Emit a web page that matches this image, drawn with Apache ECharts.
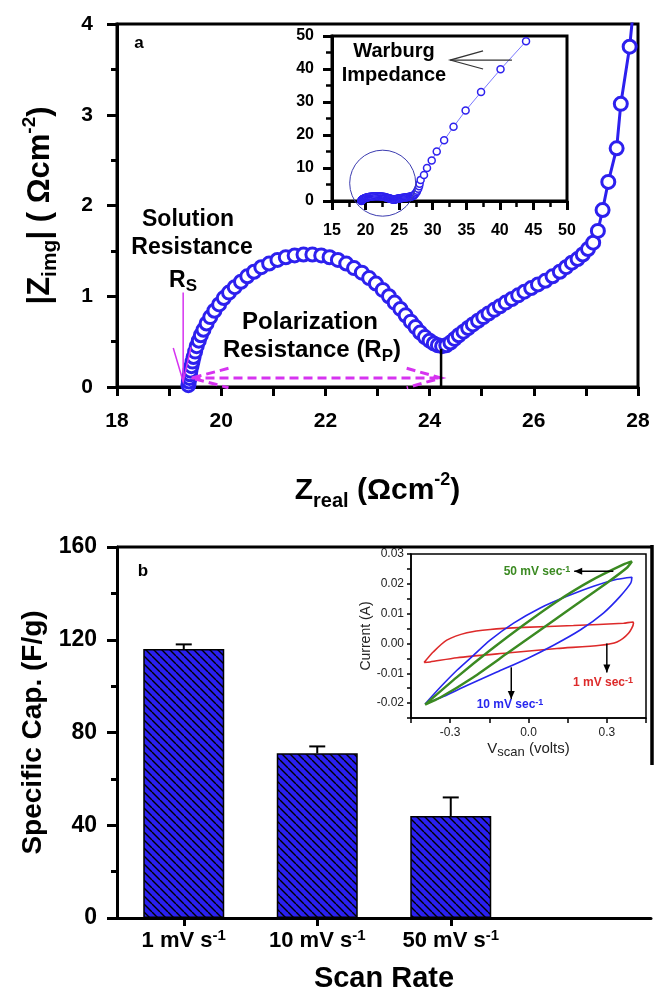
<!DOCTYPE html>
<html>
<head>
<meta charset="utf-8">
<script src="https://cdn.jsdelivr.net/npm/echarts/dist/echarts.min.js"></script>
<style>
  html, body { margin: 0; padding: 0; background: #fff; }
  #chart { width: 655px; height: 994px; }
</style>
</head>
<body>
<div id="chart"></div>
<script>
// panel a: Nyquist plot (Z_real, |Z_img|), same points in main plot and inset
const zReal = [19.37, 19.38, 19.39, 19.40, 19.41, 19.43, 19.45, 19.47, 19.50, 19.53,
  19.57, 19.61, 19.66, 19.72, 19.79, 19.87, 19.96, 20.05, 20.15, 20.26,
  20.38, 20.50, 20.63, 20.77, 20.92, 21.08, 21.24, 21.41, 21.58, 21.75,
  21.92, 22.08, 22.24, 22.40, 22.55, 22.70, 22.84, 22.97, 23.10, 23.22,
  23.33, 23.44, 23.54, 23.64, 23.73, 23.82, 23.91, 24.00, 24.08, 24.16,
  24.24, 24.32, 24.40, 24.48, 24.56, 24.65, 24.74, 24.83, 24.93, 25.03,
  25.13, 25.24, 25.35, 25.46, 25.58, 25.70, 25.82, 25.95, 26.08, 26.22,
  26.36, 26.50, 26.62, 26.73, 26.84, 26.94, 27.04, 27.14, 27.23, 27.32,
  27.43, 27.59, 27.67, 27.84, 27.97, 28.05, 28.2, 28.7, 29.15, 29.85,
  30.6, 31.7, 33.1, 34.9, 37.2, 40.1, 43.9]
const zImg = [0.02, 0.06, 0.10, 0.14, 0.18, 0.23, 0.28, 0.33, 0.39, 0.45,
  0.51, 0.57, 0.63, 0.70, 0.77, 0.84, 0.91, 0.98, 1.04, 1.10,
  1.16, 1.22, 1.27, 1.32, 1.36, 1.40, 1.43, 1.45, 1.46, 1.46,
  1.45, 1.43, 1.40, 1.36, 1.31, 1.26, 1.20, 1.14, 1.07, 1.00,
  0.93, 0.86, 0.79, 0.72, 0.66, 0.60, 0.55, 0.51, 0.48, 0.46,
  0.45, 0.46, 0.49, 0.53, 0.57, 0.61, 0.65, 0.69, 0.73, 0.77,
  0.81, 0.85, 0.89, 0.93, 0.97, 1.01, 1.05, 1.09, 1.13, 1.17,
  1.22, 1.27, 1.32, 1.37, 1.41, 1.46, 1.52, 1.59, 1.72, 1.95,
  2.26, 2.63, 3.12, 3.75, 4.5, 5.2, 6.4, 7.9, 10.0, 12.3,
  15.0, 18.4, 22.5, 27.4, 33.0, 39.9, 48.4]

// panel b: specific capacitance vs scan rate
const scanRates = ['1 mV s', '10 mV s', '50 mV s']
const specCap = [116, 71, 44]
const capErr = [2, 3, 8]

// panel b inset: CV loops (V, A)
const cv1V = [-0.400, -0.364, -0.313, -0.236, -0.147, -0.019, 0.172, 0.364, 0.400, 0.402, 0.383, 0.339, 0.275, 0.109, -0.083, -0.274, -0.377, -0.400]
const cv1I = [-0.0064, -0.0028, 0.0011, 0.0036, 0.0047, 0.0054, 0.0060, 0.0068, 0.0072, 0.0068, 0.0034, 0.0005, -0.0006, -0.0017, -0.0032, -0.0048, -0.0062, -0.0064]
const cv10V = [-0.396, -0.338, -0.274, -0.211, -0.147, -0.057, 0.045, 0.147, 0.249, 0.339, 0.396, 0.392, 0.351, 0.287, 0.198, 0.096, -0.006, -0.121, -0.236, -0.326, -0.396]
const cv10I = [-0.0203, -0.0147, -0.0090, -0.0040, 0.0011, 0.0068, 0.0119, 0.0158, 0.0192, 0.0215, 0.0222, 0.0203, 0.0158, 0.0102, 0.0045, -0.0006, -0.0051, -0.0096, -0.0141, -0.0178, -0.0203]
const cv50V = [-0.396, -0.274, -0.147, -0.019, 0.109, 0.236, 0.364, 0.396, 0.377, 0.300, 0.172, 0.045, -0.083, -0.211, -0.338, -0.396]
const cv50I = [-0.0205, -0.0113, -0.0023, 0.0062, 0.0141, 0.0209, 0.0265, 0.0275, 0.0254, 0.0203, 0.0124, 0.0045, -0.0034, -0.0113, -0.0181, -0.0205]

const BLUE = '#2d20ee'
const MAG = '#d633f0'
const FONT = 'Liberation Sans, Arial, sans-serif'

const zip = (xs, ys) => xs.map((x, i) => [x, ys[i]])

// blue fill with black "\" hatching for the bars
const tile = document.createElement('canvas')
tile.width = 8
tile.height = 8
const tg = tile.getContext('2d')
tg.fillStyle = '#2a20f0'
tg.fillRect(0, 0, 8, 8)
tg.strokeStyle = '#000'
tg.lineWidth = 1.4
for (const o of [-8, 0, 8]) {
  tg.beginPath()
  tg.moveTo(o, 0)
  tg.lineTo(o + 8, 8)
  tg.stroke()
}

const boldLabel = (size, margin) => ({
  show: true, color: '#000', fontSize: size, fontWeight: 'bold', fontFamily: FONT, margin: margin
})
const thickLine = w => ({ show: true, onZero: false, lineStyle: { color: '#000', width: w } })
const tick = (len, w) => ({ show: true, inside: false, length: len, lineStyle: { color: '#000', width: w } })
const minor = (len, w) => ({ show: true, splitNumber: 2, length: len, lineStyle: { color: '#000', width: w } })

const richBig = size => ({
  a: { fontSize: size, fontWeight: 'bold', fontFamily: FONT, color: '#000', lineHeight: size + 10 },
  s: { fontSize: Math.round(size * 0.68), fontWeight: 'bold', fontFamily: FONT, color: '#000', lineHeight: 16, verticalAlign: 'bottom' },
  p: { fontSize: Math.round(size * 0.6), fontWeight: 'bold', fontFamily: FONT, color: '#000', lineHeight: 14, verticalAlign: 'top' }
})

const chart = echarts.init(document.getElementById('chart'))
chart.setOption({
  animation: false,
  backgroundColor: '#fff',
  grid: [
    { left: 117, top: 24, width: 521, height: 363, show: true, borderColor: '#000', borderWidth: 3 },
    { left: 332, top: 36, width: 235, height: 165, show: true, borderColor: '#000', borderWidth: 3, backgroundColor: '#fff' },
    { left: 117, top: 547, width: 534, height: 371 },
    { left: 411, top: 554, width: 235, height: 164, show: true, borderColor: '#000', borderWidth: 1.5, backgroundColor: '#fff' }
  ],
  xAxis: [{
    gridIndex: 0, type: 'value', min: 18, max: 28, interval: 1,
    axisLine: thickLine(3), axisTick: tick(9, 3), splitLine: { show: false },
    axisLabel: Object.assign(boldLabel(21, 24), { formatter: v => (v % 2 === 0 ? String(v) : '') }),
    name: '{a|Z}{s|real}{a| (Ωcm}{p|-2}{a|)}',
    nameLocation: 'middle', nameGap: 84, nameTextStyle: { rich: richBig(30) }
  }, {
    gridIndex: 1, type: 'value', min: 15, max: 50, interval: 5,
    axisLine: thickLine(3), axisTick: tick(9, 3), splitLine: { show: false },
    minorTick: minor(6, 2.5),
    axisLabel: boldLabel(16, 22)
  }, {
    gridIndex: 2, type: 'category', data: scanRates.concat(['']),
    axisLine: thickLine(3),
    axisTick: { show: true, alignWithLabel: true, length: 8, interval: i => i < 3, lineStyle: { color: '#000', width: 3 } },
    axisLabel: {
      show: true, margin: 10, interval: 0,
      formatter: v => (v ? '{a|' + v + '}{p|-1}' : ''),
      rich: {
        a: { fontSize: 22, fontWeight: 'bold', fontFamily: FONT, color: '#000', lineHeight: 26 },
        p: { fontSize: 15, fontWeight: 'bold', fontFamily: FONT, color: '#000', lineHeight: 12, verticalAlign: 'top' }
      }
    },
    name: 'Scan Rate', nameLocation: 'middle', nameGap: 46,
    nameTextStyle: { fontSize: 29, fontWeight: 'bold', fontFamily: FONT, color: '#000' }
  }, {
    gridIndex: 3, type: 'value', min: -0.45, max: 0.45, interval: 0.15,
    axisLine: thickLine(1.5), axisTick: tick(5, 1.5), splitLine: { show: false },
    axisLabel: {
      show: true, color: '#222', fontSize: 12, fontFamily: FONT, margin: 9,
      formatter: v => (Math.abs(Math.abs(v) - 0.3) < 1e-6 || Math.abs(v) < 1e-6 ? Math.abs(v) < 1e-6 ? '0.0' : v.toFixed(1) : '')
    },
    name: '{a|V}{s|scan}{a| (volts)}', nameLocation: 'middle', nameGap: 21,
    nameTextStyle: {
      rich: {
        a: { fontSize: 15, fontFamily: FONT, color: '#222', lineHeight: 20 },
        s: { fontSize: 13, fontFamily: FONT, color: '#222', lineHeight: 10, verticalAlign: 'bottom' }
      }
    }
  }],
  yAxis: [{
    gridIndex: 0, type: 'value', min: 0, max: 4, interval: 1,
    axisLine: thickLine(3), axisTick: tick(10, 3), splitLine: { show: false },
    minorTick: minor(6, 3),
    axisLabel: boldLabel(21, 24),
    name: '{a||Z}{s|img}{a|| ( Ωcm}{p|-2}{a|)}',
    nameLocation: 'middle', nameRotate: 90, nameGap: 56, nameTextStyle: { rich: richBig(31) }
  }, {
    gridIndex: 1, type: 'value', min: 0, max: 50, interval: 10,
    axisLine: thickLine(3), axisTick: tick(9, 3), splitLine: { show: false },
    minorTick: minor(6, 2.5),
    axisLabel: boldLabel(16, 18)
  }, {
    gridIndex: 2, type: 'value', min: 0, max: 160, interval: 40,
    axisLine: thickLine(3), axisTick: tick(10, 3), splitLine: { show: false },
    minorTick: minor(6, 3),
    axisLabel: boldLabel(23, 20),
    name: 'Specific Cap. (F/g)', nameLocation: 'middle', nameRotate: 90, nameGap: 64,
    nameTextStyle: { fontSize: 28, fontWeight: 'bold', fontFamily: FONT, color: '#000' }
  }, {
    gridIndex: 3, type: 'value', min: -0.025, max: 0.03, interval: 0.005,
    axisLine: thickLine(1.5), axisTick: tick(4, 1.5), splitLine: { show: false },
    axisLabel: {
      show: true, color: '#222', fontSize: 12, fontFamily: FONT, margin: 7,
      formatter: v => (Math.abs(Math.round(v * 1000)) % 10 === 0 ? v.toFixed(2) : '')
    },
    name: 'Current (A)', nameLocation: 'middle', nameRotate: 90, nameGap: 34,
    nameTextStyle: { fontSize: 14, fontFamily: FONT, color: '#222' }
  }],
  series: [{
    type: 'line', xAxisIndex: 0, yAxisIndex: 0, clip: true, z: 3,
    data: zip(zReal, zImg),
    symbol: 'circle', symbolSize: 13,
    itemStyle: { color: '#fff', borderColor: BLUE, borderWidth: 3 },
    lineStyle: { color: BLUE, width: 3 }
  }, {
    type: 'line', xAxisIndex: 1, yAxisIndex: 1, clip: true, z: 3,
    data: zip(zReal, zImg),
    symbol: 'circle', symbolSize: 7,
    itemStyle: { color: '#fff', borderColor: BLUE, borderWidth: 1.5 },
    lineStyle: { color: '#7a78ff', width: 1 }
  }, {
    type: 'bar', xAxisIndex: 2, yAxisIndex: 2, barWidth: 81,
    data: specCap,
    itemStyle: { color: { image: tile, repeat: 'repeat' }, borderColor: '#000', borderWidth: 1.5 }
  }, {
    type: 'custom', xAxisIndex: 2, yAxisIndex: 2, z: 4,
    data: specCap.map((v, i) => [i, v, v + capErr[i]]),
    encode: { x: 0, y: [1, 2] },
    renderItem: (params, api) => {
      const base = api.coord([api.value(0), api.value(1)])
      const top = api.coord([api.value(0), api.value(2)])
      const st = { stroke: '#000', lineWidth: 2 }
      return {
        type: 'group',
        children: [
          { type: 'line', shape: { x1: base[0], y1: base[1], x2: top[0], y2: top[1] }, style: st },
          { type: 'line', shape: { x1: top[0] - 8, y1: top[1], x2: top[0] + 8, y2: top[1] }, style: st }
        ]
      }
    }
  }, {
    type: 'line', xAxisIndex: 3, yAxisIndex: 3, data: zip(cv1V, cv1I), smooth: 0.25,
    showSymbol: false, lineStyle: { color: '#dd2a2a', width: 1.6 }
  }, {
    type: 'line', xAxisIndex: 3, yAxisIndex: 3, data: zip(cv10V, cv10I), smooth: 0.25,
    showSymbol: false, lineStyle: { color: '#2626ee', width: 1.6 }
  }, {
    type: 'line', xAxisIndex: 3, yAxisIndex: 3, data: zip(cv50V, cv50I), smooth: 0.2,
    showSymbol: false, lineStyle: { color: '#3b8a22', width: 2.4 }
  }]
})

// annotations
const P = (g, x, y) => chart.convertToPixel({ gridIndex: g }, [x, y])
const Z = 100
const line = (pts, stroke, w, dash) => ({
  type: 'polyline', z: Z, shape: { points: pts },
  style: { stroke: stroke, lineWidth: w, fill: null, lineDash: dash || null }
})
const text = (x, y, str, size, color, rich, weight) => ({
  type: 'text', z: Z, x: x, y: y,
  style: {
    text: str, fill: color || '#000', align: 'center', verticalAlign: 'middle',
    font: (weight || 'bold') + ' ' + size + 'px ' + FONT, rich: rich
  }
})
const arrowHead = (tip, dx, dy) => {
  // filled head pointing from (tip - d) to tip
  const len = Math.hypot(dx, dy)
  const ux = dx / len, uy = dy / len
  return {
    type: 'polygon', z: Z,
    shape: { points: [tip, [tip[0] - ux * 8 - uy * 3.5, tip[1] - uy * 8 + ux * 3.5], [tip[0] - ux * 8 + uy * 3.5, tip[1] - uy * 8 - ux * 3.5]] },
    style: { fill: '#000' }
  }
}
const subRich = (size, color) => ({
  a: { fontSize: size, fontWeight: 'bold', fontFamily: FONT, fill: color, lineHeight: Math.round(size * 1.2) },
  s: { fontSize: Math.round(size * 0.72), fontWeight: 'bold', fontFamily: FONT, fill: color, lineHeight: Math.round(size * 0.6), verticalAlign: 'bottom' },
  p: { fontSize: Math.round(size * 0.72), fontWeight: 'bold', fontFamily: FONT, fill: color, lineHeight: Math.round(size * 0.6), verticalAlign: 'top' }
})

const tipRs = P(0, 19.27, 0.06)
const dashL = P(0, 19.43, 0.099), dashR = P(0, 24.22, 0.099)
const a50 = [P(3, 0.325, 0.0242), P(3, 0.175, 0.0242)]
const a1 = [P(3, 0.3, 0.0), P(3, 0.3, -0.0097)]
const a10 = [P(3, -0.066, -0.008), P(3, -0.066, -0.0186)]

chart.setOption({
  graphic: [
    text(139, 43, 'a', 17),
    text(143, 571, 'b', 17),
    // solution resistance
    text(188, 220, 'Solution', 23),
    text(192, 248, 'Resistance', 23),
    text(183, 281, '{a|R}{s|S}', 23, '#000', subRich(23, '#000')),
    line([P(0, 19.27, 1.04), tipRs], MAG, 1.5),
    line([P(0, 19.08, 0.43), tipRs, P(0, 19.42, 0.44)], MAG, 1.5),
    // polarization resistance
    text(310, 322, 'Polarization', 24),
    text(312, 350, '{a|Resistance (R}{s|P}{a|)}', 24, '#000', subRich(24, '#000')),
    line([dashL, dashR], MAG, 3, [9, 5]),
    line([P(0, 20.14, 0.206), dashL, P(0, 20.14, -0.008)], MAG, 3, [9, 5]),
    line([P(0, 23.56, 0.206), dashR, P(0, 23.56, -0.008)], MAG, 3, [9, 5]),
    line([P(0, 24.22, 0), P(0, 24.22, 0.42)], '#000', 2.5),
    // inset of panel a
    (() => { const c = P(1, 22.55, 5.4); return { type: 'circle', z: Z, shape: { cx: c[0], cy: c[1], r: 33 }, style: { fill: null, stroke: '#3c3cb0', lineWidth: 1 } } })(),
    text(394, 51, 'Warburg', 20),
    text(394, 75, 'Impedance', 20),
    line([P(1, 32.6, 42.7), P(1, 41.8, 42.7)], '#333', 1.2),
    line([P(1, 37.5, 45.5), P(1, 32.6, 42.7), P(1, 37.5, 40)], '#333', 1.2),
    // panel b frame top and inset box edge
    line([[117, 547], [652, 547]], '#000', 3),
    line([[652, 545], [652, 765]], '#000', 3.5),
    // CV labels
    text(537, 572, '{a|50 mV sec}{p|-1}', 12, '#3b8a22', subRich(12, '#3b8a22')),
    line(a50, '#000', 1.5), arrowHead(a50[1], a50[1][0] - a50[0][0], 0),
    text(603, 683, '{a|1 mV sec}{p|-1}', 12, '#dd2a2a', subRich(12, '#dd2a2a')),
    line(a1, '#000', 1.5), arrowHead(a1[1], 0, a1[1][1] - a1[0][1]),
    text(510, 705, '{a|10 mV sec}{p|-1}', 12, '#2626ee', subRich(12, '#2626ee')),
    line(a10, '#000', 1.5), arrowHead(a10[1], 0, a10[1][1] - a10[0][1])
  ]
})
</script>
</body>
</html>
